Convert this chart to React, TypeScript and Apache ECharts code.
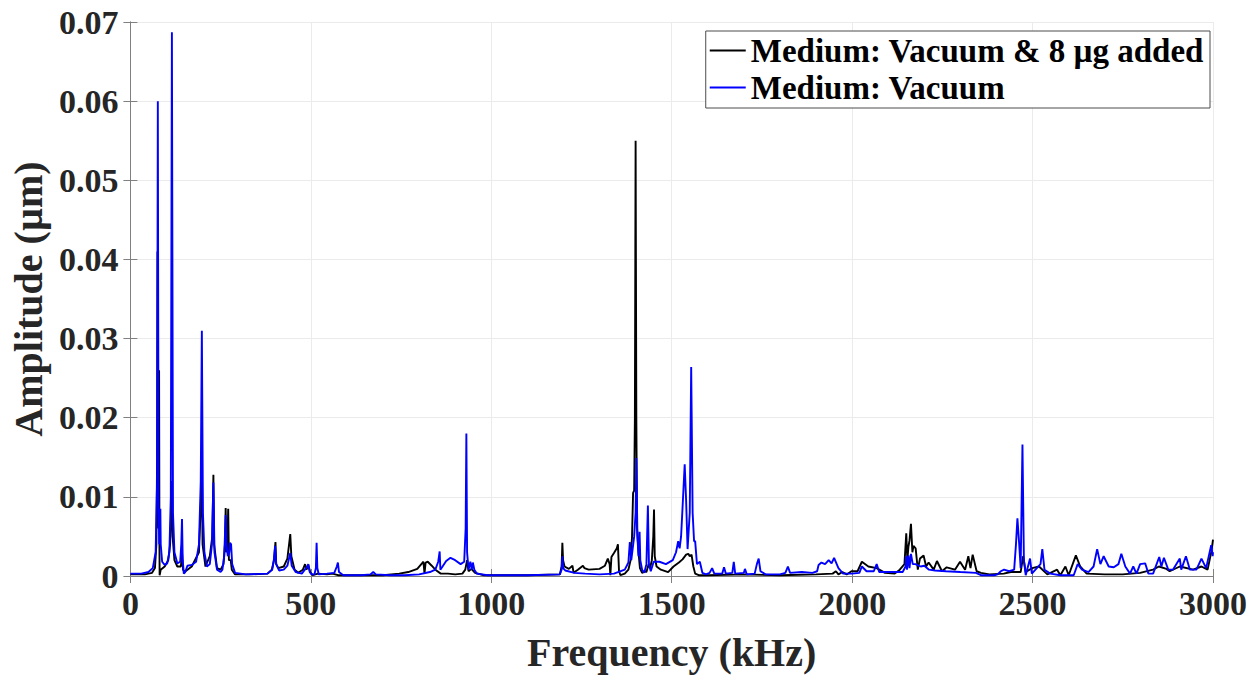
import React, { useEffect, useRef } from "react";
import * as echarts from "echarts";

const xTicks = [0, 500, 1000, 1500, 2000, 2500, 3000];
const yTicks = [0, 0.01, 0.02, 0.03, 0.04, 0.05, 0.06, 0.07];
const seriesNames = ["Medium: Vacuum & 8 µg added", "Medium: Vacuum"];

// Medium: Vacuum & 8 µg added  [frequency kHz, amplitude µm]
const blackData: number[][] = [
  [0, 0.0002], [40, 0.0002], [60, 0.0004], [68, 0.001], [72, 0.004], [74, 0.015], [75, 0.041], [76, 0.012],
  [78, 0.006], [79.5, 0.026], [80.5, 0.004], [81, 0.0001], [84, 0.0008], [95, 0.0012], [105, 0.002], [110, 0.004],
  [113, 0.008], [115, 0.012], [117, 0.005], [122, 0.002], [130, 0.0012], [140, 0.0012], [143, 0.003], [146, 0.0008],
  [150, 0.0005], [170, 0.0012], [190, 0.003], [196, 0.01], [198, 0.014], [200, 0.004], [208, 0.0012], [220, 0.0025],
  [227, 0.005], [230, 0.0128], [232, 0.004], [240, 0.001], [250, 0.0008], [258, 0.0015], [262, 0.004], [264, 0.0086],
  [266, 0.003], [269, 0.004], [271, 0.0085], [273, 0.002], [278, 0.002], [281, 0.0008], [290, 0.0002], [330, 0.0002],
  [380, 0.0003], [392, 0.0008], [398, 0.002], [402, 0.0043], [404, 0.0015], [410, 0.001], [425, 0.0012], [435, 0.0022],
  [441, 0.0045], [443, 0.0053], [446, 0.0025], [455, 0.0008], [465, 0.0004], [478, 0.0008], [484, 0.0015], [488, 0.0008],
  [493, 0.0014], [498, 0.0005], [505, 0.0001], [520, 0.0003], [545, 0.0002], [560, 0.0003], [575, 0.0001], [620, 0.0001],
  [700, 0.0001], [745, 0.0003], [770, 0.0005], [795, 0.0009], [808, 0.0016], [812, 0.0018], [815, 0.0003], [818, 0.0017],
  [824, 0.0018], [835, 0.0013], [845, 0.0008], [860, 0.0003], [880, 0.0003], [900, 0.0002], [920, 0.0003], [928, 0.0008],
  [933, 0.002], [937, 0.0006], [945, 0.0009], [955, 0.0004], [980, 0.0001], [1100, 0.0001], [1190, 0.0002], [1195, 0.0012],
  [1197, 0.0042], [1199, 0.002], [1203, 0.0012], [1215, 0.0009], [1225, 0.0013], [1228, 0.0004], [1240, 0.0008], [1254, 0.0013],
  [1258, 0.001], [1270, 0.0008], [1300, 0.0009], [1315, 0.0013], [1323, 0.0022], [1328, 0.0015], [1330, 0.0001], [1333, 0.0024],
  [1340, 0.0029], [1348, 0.0035], [1351, 0.004], [1354, 0.0006], [1358, 0.0001], [1370, 0.0003], [1380, 0.0008], [1386, 0.002],
  [1390, 0.0049], [1393, 0.0105], [1396, 0.0108], [1398, 0.02], [1400, 0.055], [1402, 0.02], [1404, 0.006], [1408, 0.003],
  [1412, 0.001], [1418, 0.0004], [1425, 0.0006], [1430, 0.0005], [1436, 0.0015], [1440, 0.001], [1445, 0.002], [1449, 0.005],
  [1451, 0.0084], [1453, 0.0025], [1458, 0.0012], [1470, 0.0008], [1490, 0.0005], [1505, 0.0012], [1520, 0.0017], [1530, 0.0021],
  [1540, 0.0027], [1546, 0.0028], [1550, 0.0025], [1555, 0.0027], [1560, 0.0012], [1565, 0.0003], [1575, 0.0001], [1600, 0.0001],
  [1700, 0.0002], [1800, 0.0001], [1900, 0.0002], [1946, 0.0003], [1955, 0.0006], [1962, 0.0002], [1973, 0.0005], [1985, 0.0002],
  [1998, 0.0006], [2015, 0.0006], [2027, 0.0018], [2045, 0.0012], [2068, 0.001], [2091, 0.0004], [2118, 0.0003], [2132, 0.0008],
  [2145, 0.0015], [2150, 0.0054], [2153, 0.002], [2156, 0.0037], [2159, 0.0045], [2163, 0.0066], [2167, 0.003], [2170, 0.0038],
  [2176, 0.0035], [2182, 0.0008], [2188, 0.0022], [2198, 0.0026], [2205, 0.0012], [2212, 0.0017], [2226, 0.0008], [2235, 0.0019],
  [2249, 0.0006], [2262, 0.0011], [2285, 0.0008], [2299, 0.0018], [2313, 0.0008], [2322, 0.0025], [2328, 0.001], [2334, 0.0027],
  [2345, 0.0006], [2357, 0.0004], [2380, 0.0002], [2420, 0.0003], [2440, 0.0005], [2467, 0.0005], [2474, 0.0025], [2481, 0.0005],
  [2499, 0.001], [2518, 0.0012], [2541, 0.0002], [2568, 0.0008], [2577, 0.0001], [2591, 0.0012], [2600, 0.0001], [2620, 0.0026],
  [2632, 0.0012], [2650, 0.0003], [2700, 0.0002], [2750, 0.0002], [2798, 0.0004], [2834, 0.0008], [2850, 0.0012], [2871, 0.0009],
  [2880, 0.0006], [2908, 0.0012], [2945, 0.0008], [2968, 0.0012], [2985, 0.0008], [2996, 0.0032], [3000, 0.0046],
];

// Medium: Vacuum  [frequency kHz, amplitude µm]
const blueData: number[][] = [
  [0, 0.0003], [30, 0.0003], [50, 0.0005], [62, 0.001], [70, 0.003], [74, 0.012], [76, 0.06], [78, 0.01],
  [80, 0.004], [82, 0.005], [83, 0.0085], [84, 0.004], [88, 0.0018], [95, 0.0014], [102, 0.0016], [108, 0.003],
  [112, 0.01], [115, 0.0687], [118, 0.008], [122, 0.003], [130, 0.0016], [138, 0.0018], [141, 0.004], [143, 0.0072],
  [145, 0.002], [148, 0.0003], [152, 0.0005], [158, 0.0013], [170, 0.0014], [182, 0.0018], [190, 0.004], [195, 0.012],
  [198, 0.031], [201, 0.008], [205, 0.003], [212, 0.0012], [220, 0.0015], [226, 0.004], [230, 0.0118], [233, 0.003],
  [240, 0.0008], [250, 0.0005], [255, 0.0008], [260, 0.0025], [264, 0.0077], [266, 0.004], [270, 0.0025], [274, 0.003],
  [276, 0.0042], [279, 0.004], [282, 0.0015], [290, 0.0004], [320, 0.0002], [380, 0.0003], [393, 0.0008], [398, 0.0022],
  [401, 0.0038], [404, 0.0015], [412, 0.0007], [425, 0.0008], [435, 0.0013], [441, 0.0025], [443, 0.0029], [447, 0.0013],
  [458, 0.0005], [475, 0.0003], [485, 0.0009], [490, 0.0012], [493, 0.0015], [497, 0.0005], [502, 0.0002], [510, 0.0002],
  [514, 0.001], [516, 0.0042], [518, 0.001], [522, 0.0002], [545, 0.0003], [565, 0.0004], [572, 0.0012], [575, 0.0017],
  [578, 0.0005], [590, 0.0001], [640, 0.0001], [665, 0.0002], [673, 0.0005], [680, 0.0002], [720, 0.0001], [760, 0.0001],
  [800, 0.0002], [830, 0.0005], [845, 0.0008], [853, 0.0018], [857, 0.0031], [859, 0.0008], [865, 0.0012], [875, 0.0019],
  [887, 0.0023], [900, 0.002], [915, 0.0015], [925, 0.0018], [929, 0.006], [931, 0.018], [933, 0.003], [937, 0.0008],
  [942, 0.0018], [946, 0.0008], [949, 0.0017], [953, 0.0008], [960, 0.0003], [990, 0.0001], [1100, 0.0001], [1190, 0.0002],
  [1195, 0.0008], [1197, 0.0025], [1199, 0.001], [1205, 0.0007], [1230, 0.0004], [1260, 0.0003], [1300, 0.0002], [1340, 0.0003],
  [1370, 0.0008], [1380, 0.0017], [1384, 0.0043], [1388, 0.002], [1392, 0.0035], [1396, 0.005], [1400, 0.008], [1402, 0.0149],
  [1405, 0.005], [1408, 0.0025], [1411, 0.0056], [1413, 0.002], [1418, 0.0008], [1424, 0.0004], [1430, 0.0015], [1434, 0.0089],
  [1437, 0.0015], [1442, 0.0006], [1450, 0.0018], [1466, 0.0018], [1484, 0.0015], [1503, 0.002], [1512, 0.003], [1518, 0.0044],
  [1522, 0.0035], [1526, 0.005], [1531, 0.0095], [1536, 0.0141], [1540, 0.0095], [1544, 0.0034], [1550, 0.008], [1554, 0.0264],
  [1558, 0.008], [1562, 0.0044], [1565, 0.0044], [1570, 0.0015], [1578, 0.0018], [1585, 0.0004], [1595, 0.0002], [1605, 0.0004],
  [1612, 0.001], [1618, 0.0003], [1640, 0.0003], [1645, 0.0011], [1650, 0.0003], [1668, 0.0004], [1672, 0.0018], [1676, 0.0003],
  [1700, 0.0004], [1703, 0.0009], [1708, 0.0002], [1730, 0.0003], [1736, 0.0015], [1741, 0.0022], [1746, 0.0006], [1760, 0.0002],
  [1800, 0.0002], [1815, 0.0004], [1822, 0.0012], [1828, 0.0004], [1860, 0.0005], [1890, 0.0004], [1903, 0.0006], [1907, 0.0014],
  [1915, 0.0017], [1925, 0.0015], [1935, 0.002], [1943, 0.0016], [1950, 0.0023], [1962, 0.001], [1975, 0.0003], [2000, 0.0003],
  [2020, 0.0004], [2027, 0.0012], [2040, 0.0006], [2060, 0.0006], [2068, 0.0015], [2075, 0.0005], [2100, 0.0005], [2140, 0.0005],
  [2148, 0.0012], [2150, 0.0025], [2152, 0.0008], [2156, 0.0026], [2159, 0.001], [2163, 0.0028], [2168, 0.0015], [2175, 0.0015],
  [2190, 0.0012], [2200, 0.0013], [2213, 0.0008], [2230, 0.0007], [2260, 0.0006], [2300, 0.0005], [2343, 0.0004], [2357, 0.0001],
  [2394, 0.0001], [2403, 0.0002], [2412, 0.0006], [2421, 0.0008], [2435, 0.0006], [2449, 0.0008], [2454, 0.004], [2458, 0.0073],
  [2463, 0.004], [2467, 0.001], [2472, 0.0166], [2476, 0.002], [2481, 0.0001], [2493, 0.0022], [2498, 0.0003], [2508, 0.0008],
  [2522, 0.0015], [2527, 0.0034], [2533, 0.0008], [2549, 0.0003], [2577, 0.0001], [2614, 0.0001], [2625, 0.0015], [2637, 0.0008],
  [2655, 0.0005], [2669, 0.0012], [2679, 0.0034], [2688, 0.0015], [2697, 0.0025], [2711, 0.0012], [2725, 0.0011], [2738, 0.0015],
  [2746, 0.0028], [2757, 0.0012], [2770, 0.0003], [2779, 0.0012], [2788, 0.0003], [2798, 0.0015], [2812, 0.0016], [2821, 0.0003],
  [2834, 0.0003], [2851, 0.0024], [2857, 0.0012], [2864, 0.0023], [2876, 0.0008], [2889, 0.0008], [2908, 0.0022], [2912, 0.0008],
  [2925, 0.0025], [2936, 0.0008], [2954, 0.0008], [2968, 0.0022], [2981, 0.001], [2995, 0.0039], [2999, 0.0025], [3000, 0.003],
];

const FONT = "'Liberation Serif', 'Times New Roman', serif";
const TEXT = "#262626";
const AXIS = "#808080";

export default function App() {
  const ref = useRef<HTMLDivElement>(null);
  useEffect(() => {
    if (!ref.current) return;
    const chart = echarts.init(ref.current, null, { renderer: "svg" });
    const boxAxis = {
      axisLine: { show: true, lineStyle: { color: AXIS, width: 1 } },
      axisTick: { show: true, inside: true, length: 7, lineStyle: { color: AXIS } },
      axisLabel: { show: false },
      splitLine: { show: false },
    };
    chart.setOption({
      animation: false,
      backgroundColor: "#ffffff",
      grid: { left: 125, right: 47, top: 22, bottom: 97, containLabel: false },
      legend: {
        orient: "vertical",
        right: 50,
        top: 31,
        data: seriesNames,
        icon: "rect",
        itemWidth: 36,
        itemHeight: 2,
        itemGap: 2,
        padding: [2, 6, 3, 4],
        borderColor: "#4d4d4d",
        borderWidth: 1,
        backgroundColor: "#ffffff",
        textStyle: { fontFamily: FONT, fontWeight: "bold", fontSize: 33, color: "#000", lineHeight: 35 },
      },
      xAxis: [
        {
          type: "value",
          min: 0,
          max: 3000,
          interval: 500,
          name: "Frequency (kHz)",
          nameLocation: "middle",
          nameGap: 56,
          nameTextStyle: { fontFamily: FONT, fontWeight: "bold", fontSize: 40, color: TEXT },
          axisLine: { show: true, lineStyle: { color: AXIS } },
          axisTick: { show: true, inside: true, length: 7, lineStyle: { color: AXIS } },
          axisLabel: {
            fontFamily: FONT, fontWeight: "bold", fontSize: 34, color: TEXT, margin: 10,
            formatter: (v: number) => String(xTicks.find((t) => t === v) ?? v),
          },
          splitLine: { show: true, lineStyle: { color: "#ebebeb", width: 1 } },
        },
        { type: "value", position: "top", min: 0, max: 3000, interval: 500, ...boxAxis },
      ],
      yAxis: [
        {
          type: "value",
          min: 0,
          max: 0.07,
          interval: 0.01,
          name: "Amplitude (µm)",
          nameLocation: "middle",
          nameGap: 72,
          nameTextStyle: { fontFamily: FONT, fontWeight: "bold", fontSize: 40, color: TEXT },
          axisLine: { show: true, lineStyle: { color: AXIS } },
          axisTick: { show: true, inside: true, length: 7, lineStyle: { color: AXIS } },
          axisLabel: {
            fontFamily: FONT, fontWeight: "bold", fontSize: 34, color: TEXT, margin: 12,
            formatter: (v: number) => {
              const t = yTicks.find((y) => Math.abs(y - v) < 1e-9);
              const val = t ?? v;
              return val === 0 ? "0" : val.toFixed(2);
            },
          },
          splitLine: { show: true, lineStyle: { color: "#ebebeb", width: 1 } },
        },
        { type: "value", position: "right", min: 0, max: 0.07, interval: 0.01, ...boxAxis },
      ],
      series: [
        {
          name: seriesNames[0],
          type: "line",
          data: blackData,
          showSymbol: false,
          symbol: "none",
          lineStyle: { color: "#000000", width: 1.9 },
          itemStyle: { color: "#000000" },
          z: 2,
        },
        {
          name: seriesNames[1],
          type: "line",
          data: blueData,
          showSymbol: false,
          symbol: "none",
          lineStyle: { color: "#0000ff", width: 1.9 },
          itemStyle: { color: "#0000ff" },
          z: 3,
        },
      ],
    });
    return () => chart.dispose();
  }, []);
  return <div ref={ref} style={{ width: 1260, height: 677, position: "absolute", left: 0, top: 0 }} />;
}
